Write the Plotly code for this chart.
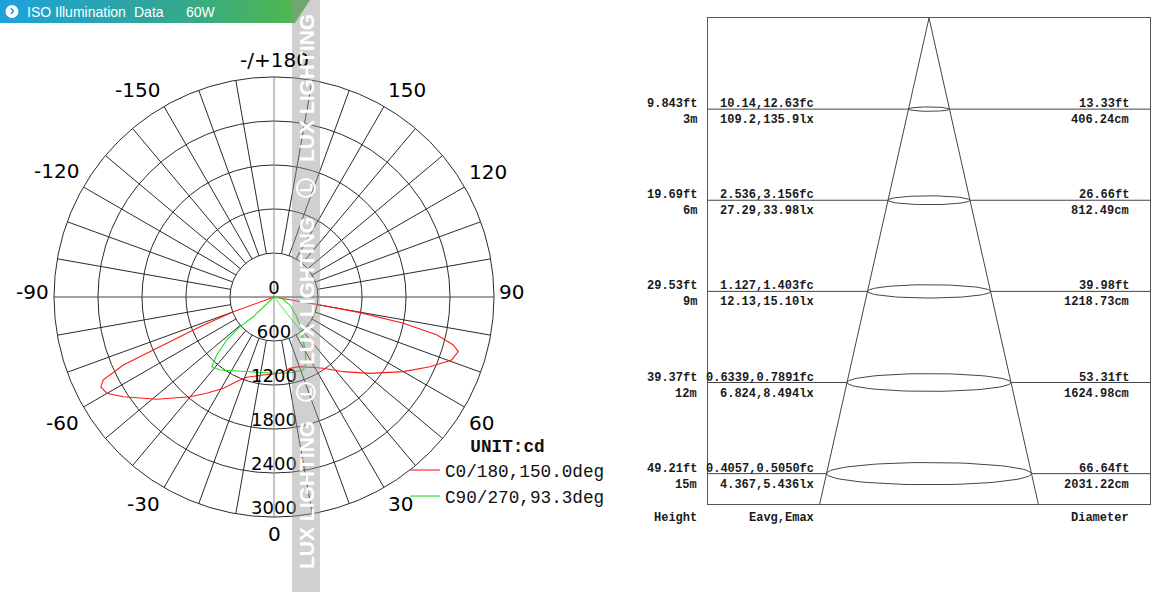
import numpy as np
import plotly.graph_objects as go

# ---------------- Polar (luminous intensity) data ----------------
red_theta = [-72, -70.1, -68.1, -66.4, -65.7, -64.1, -62.6, -60.1, -56.5, -48.9, -40.1, -35, -29,
             -23.8, -18.8, -7.8, 4.5, 12.6, 20, 27.1, 34.7, 42.9, 51.5, 60, 65.9, 70.5, 73.5, 75,
             76.9, 78.5, 79.7, 80.1, 81]
red_cd = [0, 590, 1087, 1745, 2254, 2588, 2660, 2632, 2464, 2122, 1778, 1602, 1424,
          1261, 1156, 1073, 1043, 997, 1010, 1077, 1182, 1390, 1672, 2036, 2330, 2570, 2621, 2531,
          2277, 1800, 1192, 637, 0]

green_theta = [-46, -46.4, -48.9, -47.7, -44.7, -41.8, -36.5, -17.8, -0.5, 11.9, 21.9, 25.8,
               30.3, 40, 49, 63.4, 80, 90]
green_cd = [0, 390, 615, 871, 1111, 1275, 1238, 1070, 1040, 1055, 1073, 1004,
            837, 588, 410, 244, 106, 0]
green_inner_theta = [30, 38, 30.3]
green_inner_cd = [0, 575, 837]

radial_ticks = [0, 600, 1200, 1800, 2400, 3000]
angle_ticks = [0, 30, 60, 90, 120, 150, 180, 210, 240, 270, 300, 330]
angle_text = ["0", "30", "60", "90", "120", "150", "-/+180", "-150", "-120", "-90", "-60", "-30"]
spoke_angles = list(range(0, 360, 10))
series_names = ["C0/180,150.0deg", "C90/270,93.3deg"]

# ---------------- Illuminance cone data ----------------
heights_m = [3, 6, 9, 12, 15]
height_m_text = ["3m", "6m", "9m", "12m", "15m"]
height_ft_text = ["9.843ft", "19.69ft", "29.53ft", "39.37ft", "49.21ft"]
fc_text = ["10.14,12.63fc", "2.536,3.156fc", "1.127,1.403fc", "0.6339,0.7891fc", "0.4057,0.5050fc"]
lx_text = ["109.2,135.9lx", "27.29,33.98lx", "12.13,15.10lx", "6.824,8.494lx", "4.367,5.436lx"]
diam_ft_text = ["13.33ft", "26.66ft", "39.98ft", "53.31ft", "66.64ft"]
diam_cm = [406.24, 812.49, 1218.73, 1624.98, 2031.22]

W, H = 1158, 592


def X(px):
    return px / W


def Y(py):
    return 1 - py / H


fig = go.Figure()
ann = []

# ---- polar grid spokes ----
sr, st = [], []
for a in spoke_angles:
    if a % 90 == 0:
        continue
    sr += [radial_ticks[1], radial_ticks[-1], None]
    st += [a, a, None]
fig.add_trace(go.Scatterpolar(r=sr, theta=st, mode="lines", line=dict(color="#2b2b2b", width=1),
                              hoverinfo="skip", showlegend=False))
fig.add_trace(go.Scatterpolar(r=[radial_ticks[-1], 0, radial_ticks[-1]], theta=[90, 90, 270], mode="lines",
                              line=dict(color="#444", width=1), hoverinfo="skip", showlegend=False))
fig.add_trace(go.Scatterpolar(r=[radial_ticks[-1], 0, radial_ticks[-1]], theta=[0, 0, 180], mode="lines",
                              line=dict(color="#8a8a8a", width=1), hoverinfo="skip", showlegend=False))

# ---- curves ----
fig.add_trace(go.Scatterpolar(r=red_cd, theta=red_theta, mode="lines", name=series_names[0],
                              line=dict(color="#ff1a1a", width=1.1)))
fig.add_trace(go.Scatterpolar(r=green_cd, theta=green_theta, mode="lines", name=series_names[1],
                              line=dict(color="#22e022", width=1.1)))
fig.add_trace(go.Scatterpolar(r=green_inner_cd, theta=green_inner_theta, mode="lines", showlegend=False,
                              line=dict(color="#22e022", width=0.8)))

# ---- radial labels ----
lab_off = 109
lab_r = [abs(v - lab_off) for v in radial_ticks]
lab_t = [180 if v < lab_off else 0 for v in radial_ticks]
fig.add_trace(go.Scatterpolar(r=lab_r, theta=lab_t, mode="text", text=[str(v) for v in radial_ticks],
                              textfont=dict(family="DejaVu Sans", size=18, color="black"),
                              hoverinfo="skip", showlegend=False))

cx, cy, rad = 274, 297, 220
fig.update_layout(
    polar=dict(
        domain=dict(x=[X(cx - rad), X(cx + rad)], y=[Y(cy + rad), Y(cy - rad)]),
        bgcolor="white",
        angularaxis=dict(rotation=-90, direction="counterclockwise", tickmode="array",
                         tickvals=angle_ticks, ticktext=angle_text, showgrid=False,
                         showline=True, linecolor="#2b2b2b", linewidth=1, ticks="",
                         showticklabels=False),
        radialaxis=dict(range=[0, radial_ticks[-1]], tickmode="array", tickvals=radial_ticks[1:],
                        showgrid=True, gridcolor="#2b2b2b", gridwidth=1, showline=False,
                        showticklabels=False, ticks=""),
    )
)

# ---- angle labels placed around the outer ring ----
gap = 3
for ang, txt in zip(angle_ticks, angle_text):
    s, c = np.sin(np.radians(ang)), np.cos(np.radians(ang))
    px = cx + (rad + gap) * s
    py = cy + (rad + gap) * c
    xa = "center" if abs(s) < 0.01 else ("left" if s > 0 else "right")
    if abs(c) < 0.01:
        ya, ysh = "middle", 5
    else:
        ya, ysh = ("top" if c > 0 else "bottom"), 0
    ann.append(dict(x=X(px), y=Y(py), xref="paper", yref="paper", text=txt, showarrow=False,
                    xanchor=xa, yanchor=ya, yshift=ysh,
                    font=dict(family="DejaVu Sans", size=20, color="black")))

# ---------------- Right: cone diagram ----------------
box_half = 2190
y_bottom = 16
mono = dict(family="Liberation Mono", size=12, color="#1a1a1a")
for h, d in zip(heights_m, diam_cm):
    a = d / 2
    fig.add_trace(go.Scatter(x=[-box_half, -a, None, a, box_half], y=[h, h, None, h, h], mode="lines",
                             line=dict(color="#444", width=1), xaxis="x", yaxis="y",
                             hoverinfo="skip", showlegend=False))
    t = np.linspace(0, 2 * np.pi, 80)
    b = a * 3.6e-4
    fig.add_trace(go.Scatter(x=a * np.cos(t), y=h + b * np.sin(t), mode="lines",
                             line=dict(color="#444", width=1), xaxis="x", yaxis="y",
                             hoverinfo="skip", showlegend=False))
slope = (diam_cm[-1] / 2) / heights_m[-1]
fig.add_trace(go.Scatter(x=[-slope * y_bottom, 0, slope * y_bottom], y=[y_bottom, 0, y_bottom], mode="lines",
                         line=dict(color="#444", width=1), xaxis="x", yaxis="y",
                         hoverinfo="skip", showlegend=False))

fig.update_layout(
    xaxis=dict(domain=[X(708), X(1150)], range=[-box_half, box_half], showgrid=False, zeroline=False,
               showticklabels=False, ticks="", showline=True, mirror=True, linecolor="#555", linewidth=1),
    yaxis=dict(domain=[Y(504), Y(18)], range=[y_bottom, 0], showgrid=False, zeroline=False,
               showticklabels=False, ticks="", showline=True, mirror=True, linecolor="#555", linewidth=1),
)

x_h, x_e, x_d = X(699), X(816), X(1131)
for i, h in enumerate(heights_m):
    for xx, txt_up, txt_dn in [(x_h, height_ft_text[i], height_m_text[i]),
                                (x_e, fc_text[i], lx_text[i]),
                                (x_d, diam_ft_text[i], f"{diam_cm[i]:.2f}cm")]:
        ann.append(dict(x=xx, y=h, xref="paper", yref="y", text="<b>" + txt_up + "</b>", showarrow=False,
                        xanchor="right", yanchor="middle", yshift=5, font=mono))
        ann.append(dict(x=xx, y=h, xref="paper", yref="y", text="<b>" + txt_dn + "</b>", showarrow=False,
                        xanchor="right", yanchor="middle", yshift=-11, font=mono))
for xx, txt in [(x_h, "Height"), (x_e, "Eavg,Emax"), (x_d, "Diameter")]:
    ann.append(dict(x=xx, y=Y(518), xref="paper", yref="paper", text="<b>" + txt + "</b>", showarrow=False,
                    xanchor="right", yanchor="middle", font=mono))

# ---------------- Header banner ----------------
fig.add_trace(go.Scatter(x=[0, 310, 295, 0, 0], y=[0, 0, 23, 23, 0], mode="lines", fill="toself",
                         fillgradient=dict(type="horizontal",
                                           colorscale=[[0, "#1da1de"], [0.5, "#2fa699"], [1, "#52b946"]]),
                         line=dict(width=0), xaxis="x2", yaxis="y2", hoverinfo="skip", showlegend=False))
fig.add_trace(go.Scatter(x=[12], y=[11.5], mode="markers+text", marker=dict(size=13, color="white"),
                         text=["<b>›</b>"], textposition="middle center",
                         textfont=dict(family="Liberation Sans", size=15, color="#1da1de"),
                         xaxis="x2", yaxis="y2", hoverinfo="skip", showlegend=False))
banner_font = dict(family="Liberation Sans", size=14, color="white")
for bx, btxt in [(25, "ISO Illumination"), (132, "Data"), (184, "60W")]:
    ann.append(dict(x=bx, y=11.5, xref="x2", yref="y2", text=btxt, showarrow=False,
                    xanchor="left", yanchor="middle", font=banner_font))
fig.update_layout(
    xaxis2=dict(domain=[0, X(330)], range=[0, 330], visible=False, anchor="y2"),
    yaxis2=dict(domain=[Y(24), 1], range=[24, 0], visible=False, anchor="x2"),
)

# ---------------- Watermark band ----------------
shapes = [dict(type="rect", xref="paper", yref="paper", x0=X(292), x1=X(320), y0=0, y1=1,
               fillcolor="rgba(150,150,150,0.45)", line=dict(width=0), layer="above")]
wm_font = dict(family="Liberation Sans", size=21, color="white")
for yc in [495, 291, 88]:
    ann.append(dict(x=X(306), y=Y(yc), xref="paper", yref="paper", text="<b>LUX LIGHTING</b>",
                    showarrow=False, textangle=-90, xanchor="center", yanchor="middle", font=wm_font))
for yc in [392, 188]:
    ann.append(dict(x=X(306), y=Y(yc), xref="paper", yref="paper", text="<b>Ⓛ</b>",
                    showarrow=False, textangle=-90, xanchor="center", yanchor="middle",
                    font=dict(family="DejaVu Sans", size=20, color="white")))

fig.update_layout(
    width=W, height=H, margin=dict(l=0, r=0, t=0, b=0), autosize=False,
    paper_bgcolor="white", plot_bgcolor="white",
    annotations=ann, shapes=shapes,
    showlegend=True,
    legend=dict(x=X(405), y=Y(429), xanchor="left", yanchor="top",
                bgcolor="rgba(0,0,0,0)", tracegroupgap=0,
                font=dict(family="Liberation Mono", size=17.7, color="#111"),
                title=dict(text="<b>UNIT:cd</b>", side="top center",
                           font=dict(family="Liberation Mono", size=17.7, color="#111"))),
)

fig.write_html("out.html", post_script="document.body.style.margin='0';",
               config={"displayModeBar": False})
